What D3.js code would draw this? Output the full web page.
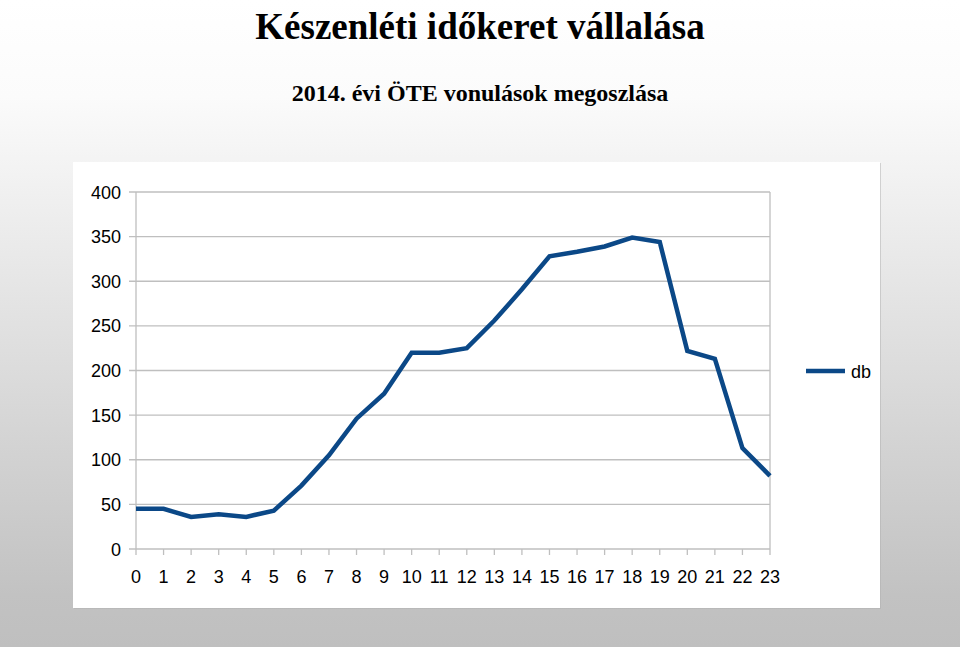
<!DOCTYPE html>
<html>
<head>
<meta charset="utf-8">
<script src="https://cdn.jsdelivr.net/npm/d3@7"></script>
<style>
html,body{margin:0;padding:0;}
body{width:960px;height:647px;overflow:hidden;}
</style>
</head>
<body>
<svg id="chart" width="960" height="647"></svg>
<script>
const title = "Készenléti időkeret vállalása";
const subtitle = "2014. évi ÖTE vonulások megoszlása";
const categories = ["0","1","2","3","4","5","6","7","8","9","10","11","12","13","14","15","16","17","18","19","20","21","22","23"];
const values = [45,45,36,39,36,43,71,105,146,174,220,220,225,256,291,328,333,339,349,344,222,213,113,82];
const yTicks = [0,50,100,150,200,250,300,350,400];
const seriesName = "db";

const svg = d3.select("#chart");
const defs = svg.append("defs");
const grad = defs.append("linearGradient").attr("id","bg").attr("x1",0).attr("y1",0).attr("x2",0).attr("y2",1);
grad.append("stop").attr("offset","0%").attr("stop-color","#ffffff");
grad.append("stop").attr("offset","15%").attr("stop-color","#fbfbfb");
grad.append("stop").attr("offset","92%").attr("stop-color","#c2c2c2");
grad.append("stop").attr("offset","100%").attr("stop-color","#bfbfbf");
svg.append("rect").attr("width",960).attr("height",647).attr("fill","url(#bg)");

svg.append("text").attr("x",480).attr("y",39).attr("text-anchor","middle")
  .attr("font-family","'Liberation Serif','Times New Roman',serif").attr("font-weight","bold")
  .attr("font-size",37).attr("fill","#000").text(title);
svg.append("text").attr("x",480).attr("y",101).attr("text-anchor","middle")
  .attr("font-family","'Liberation Serif','Times New Roman',serif").attr("font-weight","bold")
  .attr("font-size",24).attr("fill","#000").text(subtitle);

// panel
svg.append("rect").attr("x",74).attr("y",163).attr("width",807).attr("height",446).attr("fill","#b0b0b0").attr("opacity",0.5);
svg.append("rect").attr("x",73).attr("y",162).attr("width",807).attr("height",446).attr("fill","#ffffff");

const x = d3.scalePoint().domain(categories).range([136,770]);
const y = d3.scaleLinear().domain([0,400]).range([549,192]);

const g = svg.append("g");
// gridlines
g.selectAll("line.grid").data(yTicks).enter().append("line")
  .attr("x1",129).attr("x2",770).attr("y1",d=>y(d)).attr("y2",d=>y(d))
  .attr("stroke","#bfbfbf").attr("stroke-width",1.3);
// y axis line
g.append("line").attr("x1",136).attr("x2",136).attr("y1",192).attr("y2",549).attr("stroke","#bfbfbf").attr("stroke-width",1.3);
// right border
g.append("line").attr("x1",770).attr("x2",770).attr("y1",192).attr("y2",549).attr("stroke","#bfbfbf").attr("stroke-width",1.3);
// x ticks
g.selectAll("line.xt").data(categories).enter().append("line")
  .attr("x1",d=>x(d)).attr("x2",d=>x(d)).attr("y1",549).attr("y2",555)
  .attr("stroke","#bfbfbf").attr("stroke-width",1.3);

// y labels
g.selectAll("text.yl").data(yTicks).enter().append("text")
  .attr("x",121).attr("y",d=>y(d)+6.5).attr("text-anchor","end")
  .attr("font-family","'Liberation Sans',Arial,sans-serif").attr("font-size",18).attr("fill","#000")
  .text(d=>d);
// x labels
g.selectAll("text.xl").data(categories).enter().append("text")
  .attr("x",d=>x(d)).attr("y",583).attr("text-anchor","middle")
  .attr("font-family","'Liberation Sans',Arial,sans-serif").attr("font-size",18).attr("fill","#000")
  .text(d=>d);

const line = d3.line().x((d,i)=>x(categories[i])).y(d=>y(d));
g.append("path").datum(values).attr("d",line).attr("fill","none")
  .attr("stroke","#0b4887").attr("stroke-width",4.5).attr("stroke-linejoin","miter");

// legend
g.append("line").attr("x1",806).attr("x2",845).attr("y1",371).attr("y2",371).attr("stroke","#0b4887").attr("stroke-width",4.5);
g.append("text").attr("x",851).attr("y",378).attr("font-family","'Liberation Sans',Arial,sans-serif").attr("font-size",18).attr("fill","#000").text(seriesName);
</script>
</body>
</html>
